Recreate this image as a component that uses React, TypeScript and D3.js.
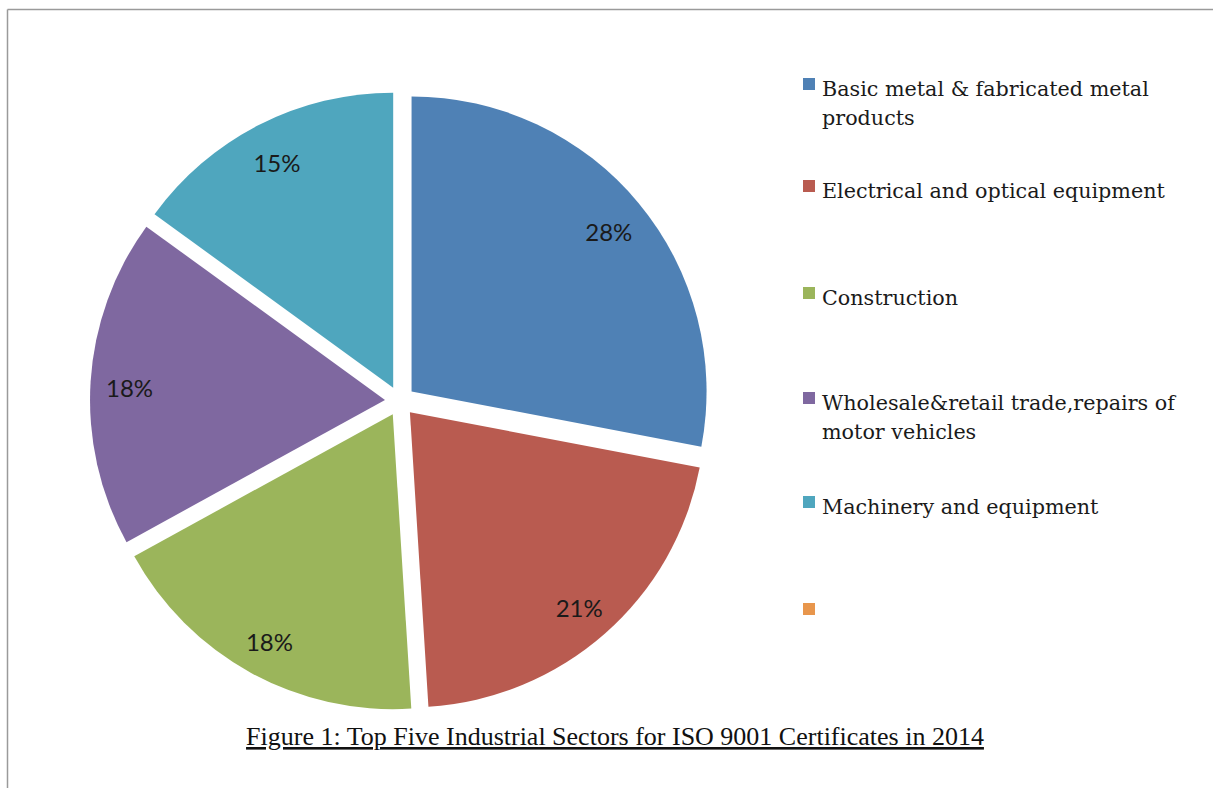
import React from "react";
import * as d3 from "d3";

const categories = [
  "Basic metal & fabricated metal products",
  "Electrical and optical equipment",
  "Construction",
  "Wholesale&retail trade,repairs of motor vehicles",
  "Machinery and equipment",
];
const values = [28, 21, 18, 18, 15];
const colors = ["#4F81B5", "#B95B50", "#9BB55B", "#7F68A0", "#4FA6BE"];
const legendLines = [
  ["Basic metal & fabricated metal", "products"],
  ["Electrical and optical equipment"],
  ["Construction"],
  ["Wholesale&retail trade,repairs of", "motor vehicles"],
  ["Machinery and equipment"],
  [""],
];
const legendColors = [...colors, "#E8964C"];
const legendBaselines = [96, 198, 305, 410, 514, 621];
const title = "Figure 1: Top Five Industrial Sectors for ISO 9001 Certificates in 2014";

const W = 1213;
const H = 788;
const cx = 400;
const cy = 401;
const R = 295;
const explode = 15;
const labelR = 256;

export default function App() {
  const pie = d3.pie<number>().sort(null).value((d) => d).startAngle(0).endAngle(2 * Math.PI);
  const arcs = pie(values);
  const arc = d3.arc<d3.PieArcDatum<number>>().innerRadius(0).outerRadius(R);
  const total = d3.sum(values);

  return (
    <svg width={W} height={H} style={{ position: "absolute", left: 0, top: 0 }}>
      <rect x={0} y={0} width={W} height={H} fill="#fff" />
      <line x1={7.5} x2={W} y1={9.5} y2={9.5} stroke="#9a9a9a" strokeWidth={1.5} />
      <line x1={7.5} x2={7.5} y1={9.5} y2={H} stroke="#9a9a9a" strokeWidth={1.5} />
      <g transform={`translate(${cx},${cy})`}>
        {arcs.map((a, i) => {
          const mid = (a.startAngle + a.endAngle) / 2;
          const ox = Math.sin(mid) * explode;
          const oy = -Math.cos(mid) * explode;
          const lx = ox + Math.sin(mid) * labelR;
          const ly = oy - Math.cos(mid) * labelR;
          return (
            <g key={categories[i]}>
              <path d={arc(a) || ""} transform={`translate(${ox},${oy})`} fill={colors[i]} />
              <text
                x={lx}
                y={ly + 4}
                dy="0.36em"
                textAnchor="middle"
                fontFamily="Lato, 'Open Sans', sans-serif"
                fontSize={24}
                fill="#1a1a1a"
              >
                {Math.round((values[i] / total) * 100)}%
              </text>
            </g>
          );
        })}
      </g>
      <g fontFamily="'DejaVu Serif', 'Liberation Serif', serif" fontSize={20.7} fill="#1a1a1a">
        {legendLines.map((lines, i) => (
          <g key={i}>
            <rect x={803} y={legendBaselines[i] - 18} width={12} height={12} fill={legendColors[i]} />
            {lines.map((ln, j) => (
              <text key={j} x={822} y={legendBaselines[i] + j * 29}>
                {ln}
              </text>
            ))}
          </g>
        ))}
      </g>
      <text
        x={615}
        y={745}
        textAnchor="middle"
        fontFamily="'Liberation Serif', 'Times New Roman', serif"
        fontSize={26}
        fill="#111"
        textDecoration="underline"
      >
        {title}
      </text>
    </svg>
  );
}
